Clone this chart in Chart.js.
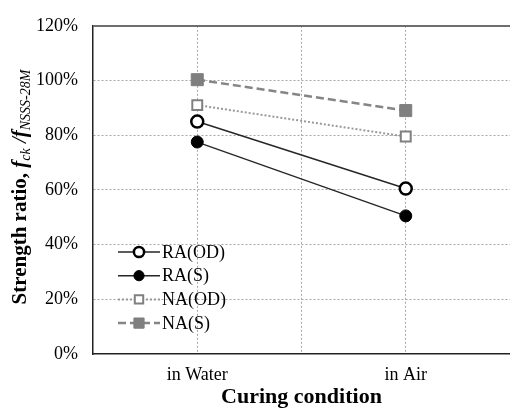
<!DOCTYPE html>
<html>
<head>
<meta charset="utf-8">
<script src="https://cdn.jsdelivr.net/npm/chart.js@4"></script>
<style>
  html, body { margin: 0; padding: 0; overflow: hidden; background: #fff; }
  #wrap { width: 520px; height: 412px; }
</style>
</head>
<body>
<div id="wrap"><canvas id="chart"></canvas></div>
<script>
// Data
const conditions = ['in Water', 'in Air'];
const seriesNames = ['RA(OD)', 'RA(S)', 'NA(OD)', 'NA(S)'];
const raOD = [85, 60.5];
const raS = [77.5, 50.5];
const naOD = [91, 79.5];
const naS = [100.3, 89];
const yTicks = [0, 20, 40, 60, 80, 100, 120];

const serif = '"Liberation Serif", "Times New Roman", serif';

function toPoints(values) {
    return values.map((v, i) => ({ x: i, y: v }));
}

const styles = [
    { borderColor: '#262626', borderWidth: 1.4, borderDash: [], pointStyle: 'circle', pointRadius: 6, pointBorderWidth: 2.5, pointBorderColor: '#000', pointBackgroundColor: '#fff' },
    { borderColor: '#262626', borderWidth: 1.4, borderDash: [], pointStyle: 'circle', pointRadius: 6, pointBorderWidth: 1, pointBorderColor: '#000', pointBackgroundColor: '#000' },
    { borderColor: '#9a9a9a', borderWidth: 2, borderDash: [2, 2], pointStyle: 'rect', pointRadius: 7, pointBorderWidth: 2, pointBorderColor: '#808080', pointBackgroundColor: '#fff' },
    { borderColor: '#858585', borderWidth: 2.5, borderDash: [8, 4], pointStyle: 'rect', pointRadius: 8.5, pointBorderWidth: 1, pointBorderColor: '#7f7f7f', pointBackgroundColor: '#7f7f7f' }
];

const seriesValues = [raOD, raS, naOD, naS];

const datasets = seriesValues.map((vals, i) => Object.assign({
    label: seriesNames[i],
    data: toPoints(vals),
    fill: false,
    tension: 0
}, styles[i]));

// Custom legend drawn inside the plot area
const legendPlugin = {
    id: 'innerLegend',
    afterDraw(chart) {
        const ctx = chart.ctx;
        const x0 = 118, x1 = 160, top = 252, step = 23.7;
        ctx.save();
        chart.data.datasets.forEach((ds, i) => {
            const y = top + i * step;
            ctx.strokeStyle = ds.borderColor;
            ctx.lineWidth = ds.borderWidth;
            ctx.setLineDash(ds.borderDash);
            ctx.beginPath();
            ctx.moveTo(x0, y);
            ctx.lineTo(x1, y);
            ctx.stroke();
            ctx.setLineDash([]);
            ctx.fillStyle = ds.pointBackgroundColor;
            ctx.strokeStyle = ds.pointBorderColor;
            ctx.lineWidth = ds.pointBorderWidth;
            Chart.helpers.drawPoint(ctx, {
                pointStyle: ds.pointStyle,
                radius: ds.pointRadius * 0.85,
                rotation: 0,
                borderWidth: ds.pointBorderWidth
            }, (x0 + x1) / 2, y);
            ctx.fillStyle = '#000';
            ctx.font = '18px ' + serif;
            ctx.textAlign = 'left';
            ctx.textBaseline = 'middle';
            ctx.fillText(ds.label, x1 + 2, y + 1);
        });
        ctx.restore();
    }
};

// Y axis title with italic / subscript parts
const yTitlePlugin = {
    id: 'yTitle',
    afterDraw(chart) {
        const ctx = chart.ctx;
        const parts = [
            { t: 'Strength ratio, ', f: 'bold 21px ' + serif, dy: 0 },
            { t: 'f', f: 'bold italic 21px ' + serif, dy: 0 },
            { t: 'ck', f: 'italic 14px ' + serif, dy: 4 },
            { t: ' /', f: 'italic 21px ' + serif, dy: 0 },
            { t: 'f', f: 'bold italic 21px ' + serif, dy: 0 },
            { t: 'NSSS-28M', f: 'italic 14px ' + serif, dy: 4 }
        ];
        ctx.save();
        let total = 0;
        parts.forEach(p => { ctx.font = p.f; p.w = ctx.measureText(p.t).width; total += p.w; });
        ctx.translate(26, 187);
        ctx.rotate(-Math.PI / 2);
        ctx.fillStyle = '#000';
        ctx.textBaseline = 'alphabetic';
        ctx.textAlign = 'left';
        let x = -total / 2;
        parts.forEach(p => {
            ctx.font = p.f;
            ctx.fillText(p.t, x, p.dy);
            x += p.w;
        });
        ctx.restore();
    }
};

new Chart(document.getElementById('chart'), {
    type: 'line',
    data: { datasets },
    plugins: [legendPlugin, yTitlePlugin],
    options: {
        responsive: true,
        maintainAspectRatio: false,
        animation: false,
        layout: { padding: { left: 0, right: 8, top: 14, bottom: 0 } },
        plugins: { legend: { display: false }, tooltip: { enabled: false } },
        scales: {
            x: {
                type: 'linear',
                min: -0.5,
                max: 1.5,
                afterBuildTicks(scale) {
                    scale.ticks = [-0.5, 0, 0.5, 1, 1.5].map(v => ({ value: v }));
                },
                afterFit(scale) { scale.height = 58; },
                ticks: {
                    autoSkip: false,
                    maxRotation: 0,
                    padding: 10,
                    color: '#000',
                    font: { family: serif, size: 18 },
                    callback: v => Number.isInteger(v) ? conditions[v] : ''
                },
                grid: {
                    drawTicks: false,
                    color: ctx => (ctx.tick && ctx.tick.value === -0.5) ? 'rgba(0,0,0,0)' : '#a6a6a6',
                    lineWidth: 1
                },
                border: { display: true, color: '#222', width: 1.5, dash: ctx => ctx.type === 'tick' ? [2, 2] : [] },
                title: {
                    display: true,
                    text: 'Curing condition',
                    color: '#000',
                    font: { family: serif, size: 22, weight: 'bold' },
                    padding: { top: 0, bottom: 1 }
                }
            },
            y: {
                min: 0,
                max: 120,
                afterBuildTicks(scale) {
                    scale.ticks = yTicks.map(v => ({ value: v }));
                },
                afterFit(scale) { scale.width = 93; },
                ticks: {
                    padding: 15,
                    color: '#000',
                    font: { family: serif, size: 18 },
                    callback: v => v + '%'
                },
                grid: {
                    drawTicks: false,
                    color: ctx => {
                        if (!ctx.tick) return '#a6a6a6';
                        if (ctx.tick.value === 120) return '#6e6e6e';
                        if (ctx.tick.value === 0) return 'rgba(0,0,0,0)';
                        return '#a6a6a6';
                    },
                    lineWidth: ctx => (ctx.tick && ctx.tick.value === 120) ? 2 : 1
                },
                border: {
                    display: true, color: '#222', width: 1.5,
                    dash: ctx => (ctx.type === 'tick' && ctx.tick.value !== 120) ? [2, 2] : []
                }
            }
        }
    }
});
</script>
</body>
</html>
